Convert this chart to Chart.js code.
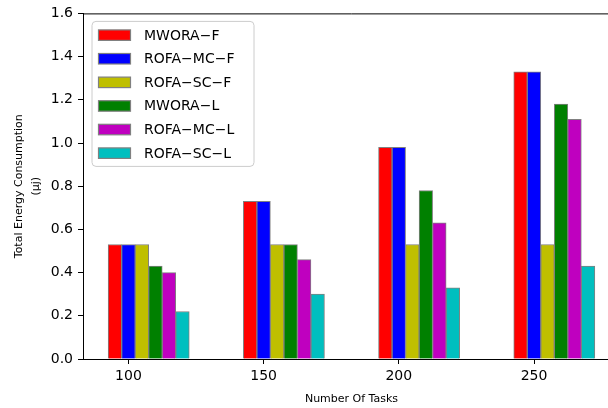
<!DOCTYPE html>
<html>
<head>
<meta charset="utf-8">
<script src="https://cdn.jsdelivr.net/npm/chart.js@4/dist/chart.umd.min.js"></script>
<style>
  html, body { margin: 0; padding: 0; background: #fff; overflow: hidden; }
  #wrap { width: 620px; height: 408px; }
</style>
</head>
<body>
<div id="wrap"><canvas id="c" width="620" height="408"></canvas></div>
<script>
// Task counts on the x axis
const tasks = [100, 150, 200, 250];

// Energy consumption per scheme (µj)
const mworaF  = [0.53, 0.73, 0.98, 1.33];
const rofaMcF = [0.53, 0.73, 0.98, 1.33];
const rofaScF = [0.53, 0.53, 0.53, 0.53];
const mworaL  = [0.43, 0.53, 0.78, 1.18];
const rofaMcL = [0.40, 0.46, 0.63, 1.11];
const rofaScL = [0.22, 0.30, 0.33, 0.43];

const seriesNames = ['MWORA\u2212F', 'ROFA\u2212MC\u2212F', 'ROFA\u2212SC\u2212F',
                     'MWORA\u2212L', 'ROFA\u2212MC\u2212L', 'ROFA\u2212SC\u2212L'];
const seriesValues = [mworaF, rofaMcF, rofaScF, mworaL, rofaMcL, rofaScL];
const seriesColors = ['#ff0000', '#0000ff', '#bfbf00', '#008000', '#bf00bf', '#00bfbf'];

// Bars are laid side by side, one bar width apart, starting one width left of the tick
const barWidth = 5;

Chart.defaults.font.family = "'DejaVu Sans', sans-serif";
Chart.defaults.color = '#000';

const datasets = seriesNames.map((name, i) => ({
  label: name,
  data: tasks.map((t, k) => ({ x: t + (i - 1) * barWidth, y: seriesValues[i][k] })),
  backgroundColor: seriesColors[i],
  borderColor: '#808080',
  borderWidth: 1,
  grouped: false,
  barPercentage: 1,
  categoryPercentage: 1
}));

// Legend box drawn inside the plot, upper-left, plus the top frame line
const frameAndLegend = {
  id: 'frameAndLegend',
  afterDatasetsDraw(chart) {
    const ctx = chart.ctx;
    const a = chart.chartArea;
    ctx.save();
    // top spine
    ctx.strokeStyle = '#000';
    ctx.lineWidth = 1;
    ctx.beginPath();
    ctx.moveTo(a.left, a.top + 0.5);
    ctx.lineTo(a.right, a.top + 0.5);
    ctx.stroke();

    // legend frame
    const bx = a.left + 9, by = a.top + 8, bw = 162, bh = 145, r = 4;
    ctx.beginPath();
    ctx.moveTo(bx + r, by);
    ctx.arcTo(bx + bw, by, bx + bw, by + bh, r);
    ctx.arcTo(bx + bw, by + bh, bx, by + bh, r);
    ctx.arcTo(bx, by + bh, bx, by, r);
    ctx.arcTo(bx, by, bx + bw, by, r);
    ctx.closePath();
    ctx.fillStyle = 'rgba(255,255,255,0.8)';
    ctx.fill();
    ctx.strokeStyle = '#cccccc';
    ctx.lineWidth = 1;
    ctx.stroke();

    // legend entries
    ctx.font = "14px 'DejaVu Sans', sans-serif";
    ctx.textBaseline = 'middle';
    ctx.textAlign = 'left';
    chart.data.datasets.forEach((ds, i) => {
      const cy = by + 13.5 + i * 23.6;
      ctx.fillStyle = ds.backgroundColor;
      ctx.fillRect(bx + 6.5, cy - 5, 32, 10.5);
      ctx.strokeStyle = '#808080';
      ctx.lineWidth = 1.2;
      ctx.strokeRect(bx + 6.5, cy - 5, 32, 10.5);
      ctx.fillStyle = '#000';
      ctx.fillText(ds.label, bx + 52, cy + 1);
    });
    ctx.restore();
  }
};

new Chart(document.getElementById('c'), {
  type: 'bar',
  data: { datasets },
  options: {
    responsive: false,
    animation: false,
    events: [],
    layout: { padding: { top: 11, right: 0, left: 0, bottom: 0 } },
    plugins: {
      legend: { display: false },
      tooltip: { enabled: false }
    },
    scales: {
      x: {
        type: 'linear',
        min: 83.2,
        max: 281.8,
        offset: false,
        afterBuildTicks(scale) { scale.ticks = tasks.map(v => ({ value: v })); },
        afterFit(scale) { scale.height = 49; },
        grid: { display: true, offset: false, drawOnChartArea: false, drawTicks: true, tickLength: 5, color: '#000', tickWidth: 1 },
        border: { display: true, color: '#000', width: 1 },
        ticks: { font: { size: 14 }, padding: 4, color: '#000', maxRotation: 0 },
        title: { display: true, text: 'Number Of Tasks', font: { size: 11 }, padding: { top: 0, bottom: 2.5 }, color: '#000' }
      },
      y: {
        min: 0,
        max: 1.6,
        afterFit(scale) { scale.width = 83; },
        grid: { display: true, drawOnChartArea: false, drawTicks: true, tickLength: 5, color: '#000', tickWidth: 1 },
        border: { display: true, color: '#000', width: 1 },
        ticks: { stepSize: 0.2, font: { size: 14 }, padding: 5, color: '#000', callback: v => v.toFixed(1) },
        title: {
          display: true,
          text: ['Total Energy Consumption', '(\u03bcj)'],
          font: { size: 11, lineHeight: 1.5 },
          padding: { top: 11, bottom: 0 },
          color: '#000'
        }
      }
    }
  },
  plugins: [frameAndLegend]
});
</script>
</body>
</html>
